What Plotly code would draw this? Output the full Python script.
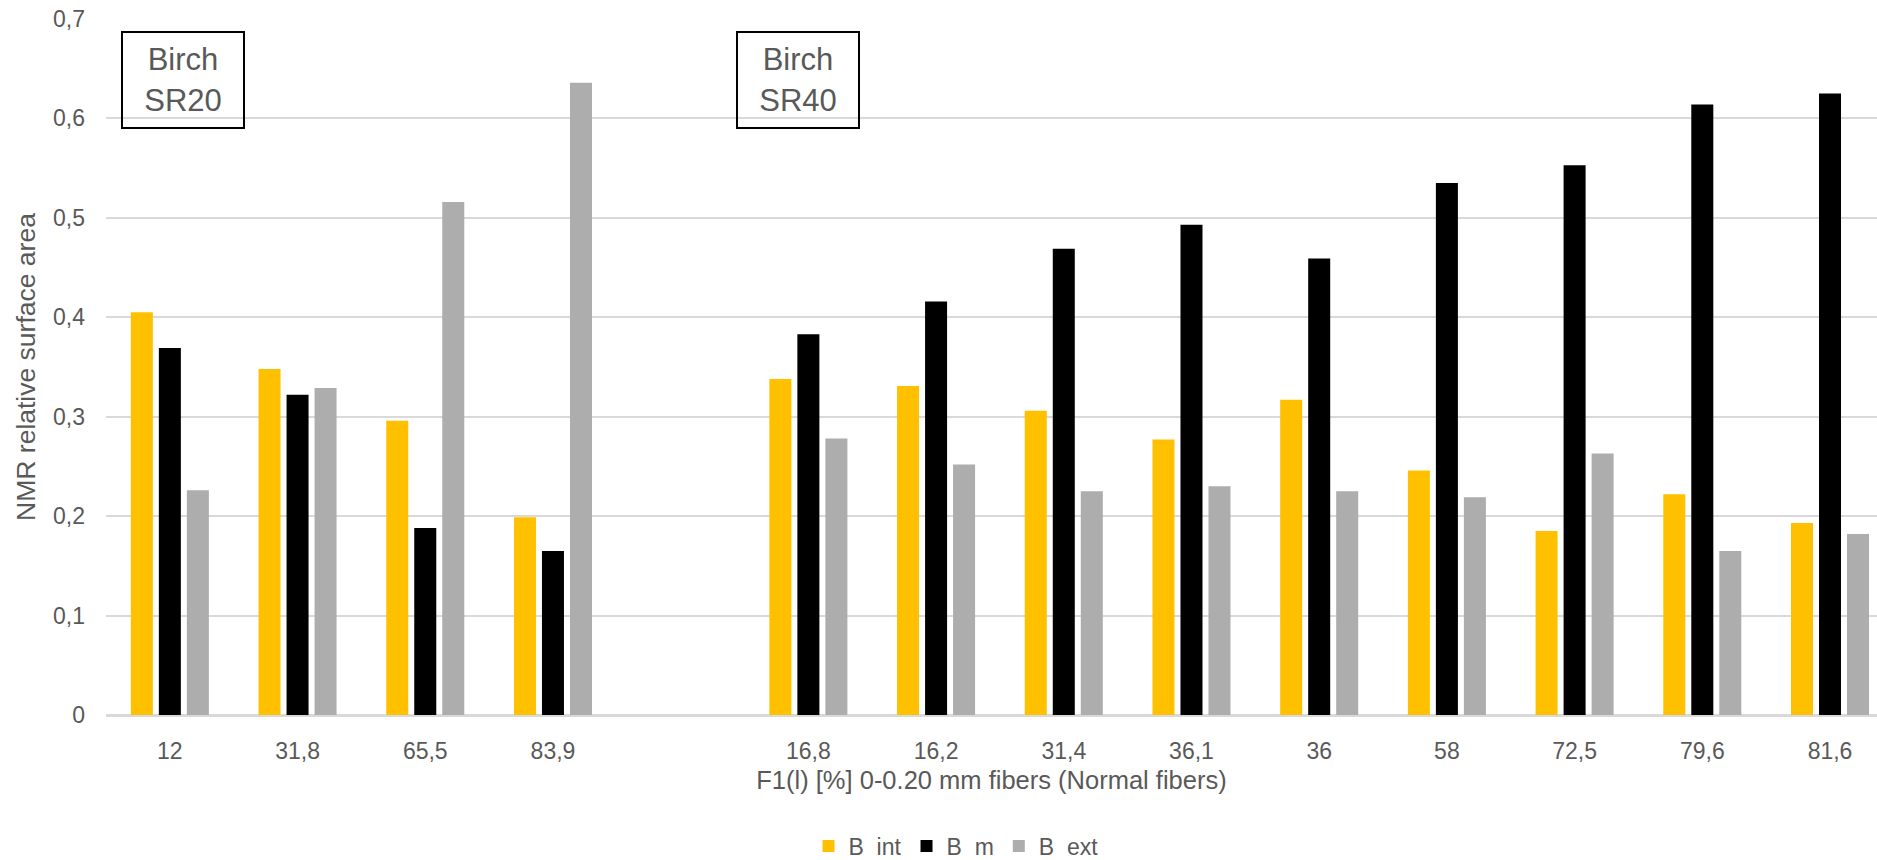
import plotly.graph_objects as go

# F1(l) [%] values for each sample; the blank entry separates the SR20 and SR40 series
categories = ["12", "31,8", "65,5", "83,9", " ",
              "16,8", "16,2", "31,4", "36,1", "36", "58", "72,5", "79,6", "81,6"]

b_int = [0.405, 0.348, 0.296, 0.199, None,
         0.338, 0.331, 0.306, 0.277, 0.317, 0.246, 0.185, 0.222, 0.193]
b_m = [0.369, 0.322, 0.188, 0.165, None,
       0.383, 0.416, 0.469, 0.493, 0.459, 0.535, 0.553, 0.614, 0.625]
b_ext = [0.226, 0.329, 0.516, 0.636, None,
         0.278, 0.252, 0.225, 0.230, 0.225, 0.219, 0.263, 0.165, 0.182]

series = [
    ("B\u00a0\u00a0int", b_int, "#FFC000"),
    ("B\u00a0\u00a0m", b_m, "#000000"),
    ("B\u00a0\u00a0ext", b_ext, "#ADADAD"),
]

W, H = 1877, 860
ML, MR, MT, MB = 106, 0, 19, 145
FONT = "Liberation Sans, Arial, sans-serif"
TXT = "#595959"

fig = go.Figure()
for name, vals, color in series:
    fig.add_trace(go.Bar(
        x=categories, y=vals, name=name,
        marker=dict(color=color, line=dict(width=0)),
    ))

pw = W - ML - MR
ph = H - MT - MB


def px_x(px):
    return (px - ML) / pw


def px_y(py):
    return (H - MB - py) / ph


fig.update_layout(
    width=W, height=H,
    margin=dict(l=ML, r=MR, t=MT, b=MB, autoexpand=False),
    paper_bgcolor="white", plot_bgcolor="white",
    separators=", ",
    barmode="group", bargap=0.342, bargroupgap=0.214,
    font=dict(family=FONT, color=TXT, size=23),
    showlegend=True,
    legend=dict(
        orientation="h", x=px_x(956), xanchor="center",
        y=px_y(846), yanchor="middle",
        font=dict(size=23, color=TXT), traceorder="normal",
        itemwidth=30,
    ),
    xaxis=dict(
        type="category", categoryorder="array", categoryarray=categories,
        range=[-0.5, 13.368],
        showgrid=False, showline=True, linecolor="#D9D9D9", linewidth=2,
        ticks="", ticklabelstandoff=14,
        tickfont=dict(size=23, color=TXT),
        title=dict(text="F1(l) [%] 0-0.20 mm fibers (Normal fibers)",
                   font=dict(size=25.5, color=TXT), standoff=9),
    ),
    yaxis=dict(
        range=[0, 0.7], dtick=0.1, tick0=0,
        showgrid=True, gridcolor="#D9D9D9", gridwidth=2,
        zeroline=True, zerolinecolor="#D9D9D9", zerolinewidth=2,
        showline=False, ticks="", ticklabelstandoff=20,
        tickfont=dict(size=23, color=TXT),
        title=dict(text="NMR relative surface area",
                   font=dict(size=26.5, color=TXT), standoff=9),
    ),
)

# group labels in framed boxes
for label, left in [("Birch<br>SR20", 121), ("Birch<br>SR40", 736)]:
    fig.add_annotation(
        xref="paper", yref="paper",
        x=px_x(left), y=px_y(31), xanchor="left", yanchor="top",
        text=label, showarrow=False, align="center",
        font=dict(size=31, color=TXT, family=FONT),
        bordercolor="#000000", borderwidth=2, borderpad=0,
        width=120, height=94, valign="middle",
    )

fig.write_html("out.html")
